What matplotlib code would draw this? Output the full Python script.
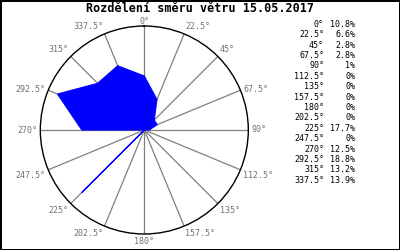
import numpy as np
import matplotlib
matplotlib.use('Agg')
import matplotlib.pyplot as plt

title = 'Rozdělení směru větru 15.05.2017'
directions = [0, 22.5, 45, 67.5, 90, 112.5, 135, 157.5,
              180, 202.5, 225, 247.5, 270, 292.5, 315, 337.5]
percent = [10.8, 6.6, 2.8, 2.8, 1, 0, 0, 0,
           0, 0, 17.7, 0, 12.5, 18.8, 13.2, 13.9]

rmax = 20.8
mono = 'DejaVu Sans Mono'

fig = plt.figure(figsize=(4, 2.5), dpi=100)
fig.patch.set_facecolor('white')
fig.patch.set_edgecolor('black')
fig.patch.set_linewidth(2)

ax = fig.add_axes([0.1008, 0.064, 0.52, 0.832], projection='polar')
ax.set_theta_zero_location('N')
ax.set_theta_direction(-1)
ax.set_ylim(0, rmax)
ax.set_rticks([])
ax.set_thetagrids(directions, [''] * len(directions))
ax.grid(True, axis='x', color='#808080', linewidth=0.9, zorder=1)
ax.spines['polar'].set_color('black')
ax.spines['polar'].set_linewidth(1)
ax.set_axisbelow(True)

theta = np.radians(directions)
ax.fill(np.append(theta, theta[0]), np.append(percent, percent[0]),
        facecolor='#0000ff', edgecolor='#0000ff', linewidth=0.8, zorder=3)

# angle labels round the circle
for d in directions:
    s, c = np.sin(np.radians(d)), np.cos(np.radians(d))
    ha = 'left' if s > 0.01 else ('right' if s < -0.01 else 'center')
    va = 'bottom' if c > 0.5 else ('top' if c < -0.3 else 'center')
    pad = 0 if d == 0 else 3
    ax.text(np.radians(d), rmax * (1 + pad / 104), '%g°' % d, ha=ha, va=va,
            fontsize=6, family=mono, color='#707070', clip_on=False)

fig.text(0.5, 1 - 8 / 250, title, ha='center', va='center',
         fontsize=8.5, family=mono, fontweight='bold')

# legend table on the right
for i, (d, p) in enumerate(zip(directions, percent)):
    y = 1 - (24.3 + 10.4 * i) / 250
    fig.text(324 / 400, y, '%g°' % d, ha='right', va='center',
             fontsize=6, family=mono)
    fig.text(355 / 400, y, '%g%%' % p, ha='right', va='center',
             fontsize=6, family=mono)

fig.savefig('out.png', dpi=100)
